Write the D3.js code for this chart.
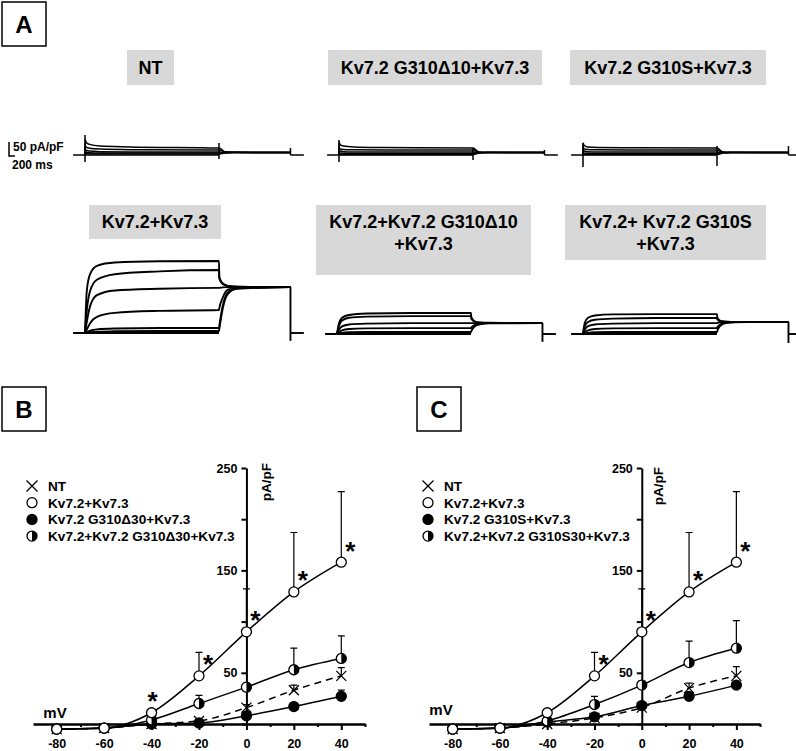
<!DOCTYPE html>
<html>
<head>
<meta charset="utf-8">
<script src="https://cdn.jsdelivr.net/npm/d3@7"></script>
<style>
  body { margin: 0; background: #fff; }
  svg { display: block; }
  text { font-family: Arial, "Liberation Sans", sans-serif; font-weight: bold; fill: #000; }
</style>
</head>
<body>
<div id="chart"></div>
<script>
// --- Panel A: current traces (ms, pA/pF) ---
const stepTop = [0, 1, 40, 150, 500, 1500, 4500];
const tailTop = [4700, 5000, 6000, 6900];
const stepBot = [0, 60, 170, 400, 1000, 2500, 4500];
const tailBot = [4510, 4620, 4800, 5100, 6900];
const holdStart = -400;
const holdEnd = 7350;

const ntStep = [[0, 55, 45, 38, 32, 29, 25], [0, 35, 28, 24, 21, 19, 18], [0, 22, 17, 14, 12, 11, 11], [0, 12, 10, 8, 7, 7, 7], [0, 6, 5, 4, 4, 4, 4]];
const ntTail = [[12, 10, 9, 9], [11, 10, 9, 9], [9, 9, 9, 9], [8, 9, 9, 9], [7, 9, 9, 9]];
const ntSpikes = [[0, -25, 71], [4500, -14, 43], [6900, 0, 25]];

const d10Step = [[0, 46, 36, 32, 29, 27, 25], [0, 28, 22, 20, 19, 18, 18], [0, 18, 14, 12, 11, 11, 11], [0, 9, 7, 6, 5, 5, 5], [0, 4, 3, 2, 2, 2, 2]];
const d10Tail = [[11, 10, 9, 9], [10, 9, 9, 9], [9, 9, 9, 9], [8, 9, 9, 9], [7, 9, 9, 9]];
const d10Spikes = [[0, -25, 54], [4500, -18, 25], [6900, 0, 18]];

const sStep = [[0, 43, 34, 29, 27, 26, 25], [0, 28, 22, 20, 19, 18, 18], [0, 17, 14, 12, 11, 11, 11], [0, 9, 7, 6, 5, 5, 5], [0, 4, 3, 2, 2, 2, 2]];
const sTail = [[11, 10, 9, 9], [10, 9, 9, 9], [9, 9, 9, 9], [8, 9, 9, 9], [7, 9, 9, 9]];
const sSpikes = [[0, -43, 43], [4500, -39, 32], [6900, 0, 32]];

const wtStep = [[0, 150, 210, 240, 252, 256, 257], [0, 80, 150, 190, 210, 220, 225], [0, 40, 95, 135, 152, 158, 161], [0, 12, 35, 58, 72, 79, 82], [0, 3, 8, 13, 16, 18, 18], [0, 1, 3, 5, 6, 7, 7]];
const wtTail = [[195, 175, 168, 165, 164], [200, 178, 168, 165, 164], [161, 163, 164, 164, 164], [88, 125, 155, 162, 164], [25, 95, 145, 160, 164], [14, 85, 140, 158, 164]];
const wtSpikes = [[6900, -28, 164]];

const mixD10Step = [[0, 35, 58, 68, 73, 75, 75], [0, 28, 48, 58, 62, 64, 64], [0, 14, 27, 34, 37, 39, 39], [0, 6, 13, 18, 20, 21, 21], [0, 2, 4, 6, 7, 7, 7]];
const mixD10Tail = [[60, 45, 41, 40, 39], [55, 44, 40, 39, 39], [39, 39, 39, 39, 39], [23, 32, 37, 39, 39], [10, 27, 35, 38, 39]];
const mixD10Spikes = [[6900, -28, 39]];

const mixSStep = [[0, 40, 58, 66, 70, 71, 71], [0, 28, 43, 51, 55, 57, 57], [0, 16, 28, 34, 37, 39, 39], [0, 7, 13, 18, 20, 21, 21], [0, 2, 4, 6, 7, 7, 7]];
const mixSTail = [[58, 47, 44, 43, 43], [52, 46, 44, 43, 43], [40, 42, 43, 43, 43], [24, 35, 41, 43, 43], [11, 30, 39, 42, 43]];
const mixSSpikes = [[6900, -32, 43]];

const traceTitles = [["NT"], ["Kv7.2 G310Δ10+Kv7.3"], ["Kv7.2 G310S+Kv7.3"], ["Kv7.2+Kv7.3"], ["Kv7.2+Kv7.2 G310Δ10", "+Kv7.3"], ["Kv7.2+ Kv7.2 G310S", "+Kv7.3"]];

// --- Panels B and C: I-V relations (mV, pA/pF) ---
const voltages = [-80, -60, -40, -20, 0, 20, 40];
const majorMv = [-80, -60, -40, -20, 0, 20, 40];
const minorMv = [-70, -50, -30, -10, 10, 30, 50];
const currentTicks = [0, 50, 100, 150, 200, 250];
const labelledTicks = [50, 150, 250];

const bNT = [-5, -4, 0, 3, 16, 33, 47];
const bNTErr = [0, 0, 0, 1, 3, 5, 8];
const bWT = [-5, -4, 11, 47, 90, 129, 158];
const bWTErr = [0, 0, 2, 23, 42, 58, 69];
const bD30 = [-5, -4, 0, 1, 8, 17, 27];
const bD30Err = [0, 0, 0, 0, 2, 2, 6];
const bMix = [-5, -4, 4, 20, 36, 53, 64];
const bMixErr = [0, 0, 1, 8, 4, 21, 22];
const bStars = [-40, -20, 0, 20, 40];

const cNT = [-5, -4, 0, 6, 16, 35, 47];
const cNTErr = [0, 0, 0, 1, 3, 5, 9];
const cWT = [-5, -4, 11, 47, 90, 129, 158];
const cWTErr = [0, 0, 2, 23, 42, 58, 69];
const cS = [-5, -4, 2, 7, 18, 27, 38];
const cSErr = [0, 0, 0, 1, 2, 3, 3];
const cMix = [-5, -4, 3, 19, 38, 60, 74];
const cMixErr = [0, 0, 1, 8, 4, 21, 27];
const cStars = [-20, 0, 20, 40];

const legendB = ["NT", "Kv7.2+Kv7.3", "Kv7.2 G310Δ30+Kv7.3", "Kv7.2+Kv7.2 G310Δ30+Kv7.3"];
const legendC = ["NT", "Kv7.2+Kv7.3", "Kv7.2 G310S+Kv7.3", "Kv7.2+Kv7.2 G310S30+Kv7.3"];
const markerTypes = ["x", "open", "filled", "half"];

// --- SVG ---
const width = 796;
const height = 751;
const svg = d3.select("#chart").append("svg").attr("width", width).attr("height", height);

// panel letter boxes
[["A", 2, 2], ["B", 2, 387], ["C", 417, 387]].forEach(([l, x, y]) => {
  svg.append("rect").attr("x", x).attr("y", y).attr("width", 44).attr("height", 44)
    .attr("fill", "none").attr("stroke", "#000").attr("stroke-width", 1.5);
  svg.append("text").attr("x", x + 22).attr("y", y + 22).attr("dy", "0.36em")
    .attr("text-anchor", "middle").style("font-size", "24px").text(l);
});

// --- Panel A ---
const titleBoxes = [
  { x: 127, y: 50, w: 47, h: 35 }, { x: 328, y: 50, w: 214, h: 35 }, { x: 570, y: 50, w: 196, h: 35 },
  { x: 89, y: 205, w: 132, h: 34 }, { x: 316, y: 205, w: 215, h: 70 }, { x: 565, y: 205, w: 201, h: 55 }
];
titleBoxes.forEach((b, i) => {
  svg.append("rect").attr("x", b.x).attr("y", b.y).attr("width", b.w).attr("height", b.h).attr("fill", "#d8d8d8");
  const lines = traceTitles[i];
  lines.forEach((t, j) => {
    const cy = lines.length === 1 ? b.y + b.h / 2 : 222 + j * 21.5;
    svg.append("text").attr("x", b.x + b.w / 2).attr("y", cy).attr("dy", "0.36em")
      .attr("text-anchor", "middle").style("font-size", "18px").text(t);
  });
});

const tx = d3.scaleLinear().domain([0, 4500]).range([0, 134]);
const ty = d3.scaleLinear().domain([0, 50]).range([0, -14]);
const traceLine = d3.line().x((d) => tx(d[0])).y((d) => ty(d[1])).curve(d3.curveMonotoneX);
const flatLine = d3.line().x((d) => tx(d[0])).y((d) => ty(d[1]));

function drawTraces(ox, oy, stepT, tailT, step, tail, spikes, sw) {
  const g = svg.append("g").attr("transform", `translate(${ox},${oy})`)
    .attr("fill", "none").attr("stroke", "#000").attr("stroke-width", sw);
  g.append("path").attr("d", flatLine([[holdStart, 0], [4500, 0]]));
  g.append("path").attr("d", flatLine([[6900, 0], [holdEnd, 0]]));
  step.forEach((vals, i) => {
    const pts = stepT.map((t, j) => [t, vals[j]]).concat(tailT.map((t, j) => [t, tail[i][j]]));
    g.append("path").attr("d", traceLine(pts));
  });
  spikes.forEach(([t, lo, hi]) => {
    g.append("path").attr("d", flatLine([[t, lo], [t, hi]]));
  });
}

drawTraces(85, 155, stepTop, tailTop, ntStep, ntTail, ntSpikes, 1.5);
drawTraces(339, 155, stepTop, tailTop, d10Step, d10Tail, d10Spikes, 1.5);
drawTraces(583, 155, stepTop, tailTop, sStep, sTail, sSpikes, 1.5);
drawTraces(85, 333, stepBot, tailBot, wtStep, wtTail, wtSpikes, 1.9);
drawTraces(337, 334, stepBot, tailBot, mixD10Step, mixD10Tail, mixD10Spikes, 1.9);
drawTraces(583, 334, stepBot, tailBot, mixSStep, mixSTail, mixSSpikes, 1.9);

// scale bar
const sb = svg.append("g").attr("transform", "translate(9,156)");
sb.append("path").attr("d", flatLine([[0, 50], [0, 0], [200, 0]]))
  .attr("fill", "none").attr("stroke", "#000").attr("stroke-width", 1.5);
svg.append("text").attr("x", 13).attr("y", 147).attr("dy", "0.36em").style("font-size", "12px").text("50 pA/pF");
svg.append("text").attr("x", 12).attr("y", 165).attr("dy", "0.36em").style("font-size", "12px").text("200 ms");

// --- I-V panels ---
function marker(g, type, x, y, s = 5) {
  if (type === "x") {
    g.append("path").attr("d", `M${x - s},${y - s}L${x + s},${y + s}M${x - s},${y + s}L${x + s},${y - s}`)
      .attr("stroke", "#000").attr("stroke-width", 1.3).attr("fill", "none");
    return;
  }
  g.append("circle").attr("cx", x).attr("cy", y).attr("r", s)
    .attr("fill", type === "filled" ? "#000" : "#fff").attr("stroke", "#000").attr("stroke-width", 1.3);
  if (type === "half") {
    g.append("path").attr("d", `M${x},${y - s}A${s},${s} 0 0,1 ${x},${y + s}Z`).attr("fill", "#000");
  }
}

function drawIV(cfg) {
  const x = d3.scaleLinear().domain([-90, 50]).range(cfg.xRange);
  const y = d3.scaleLinear().domain([0, 250]).range([724, 468]);
  const g = svg.append("g");

  const xAxis = g.append("g").attr("transform", `translate(0,${y(0)})`)
    .call(d3.axisBottom(x).tickValues(majorMv).tickSize(6).tickPadding(9).tickSizeOuter(0).tickFormat((d) => String(d)));
  const xMinor = g.append("g").attr("transform", `translate(0,${y(0)})`)
    .call(d3.axisBottom(x).tickValues(minorMv).tickSize(3).tickFormat(""));
  xMinor.select(".domain").remove();
  const yAxis = g.append("g").attr("transform", `translate(${x(0)},0)`)
    .call(d3.axisLeft(y).tickValues(currentTicks).tickSize(5).tickPadding(4).tickSizeOuter(0)
      .tickFormat((d) => (labelledTicks.includes(d) ? d : "")));
  [xAxis, xMinor, yAxis].forEach((a) => {
    a.selectAll("path, line").attr("stroke", "#000").attr("stroke-width", 2);
    a.selectAll("text").style("font-size", "12.5px").style("font-family", "Arial, 'Liberation Sans', sans-serif")
      .style("font-weight", "bold").attr("fill", "#000");
  });
  xAxis.select(".domain").attr("stroke-width", 2.5);

  g.append("text").attr("x", cfg.mv[0]).attr("y", cfg.mv[1]).attr("dy", "0.36em")
    .attr("text-anchor", "middle").style("font-size", "15px").text("mV");
  g.append("text").attr("transform", `translate(${cfg.unit[0]},${cfg.unit[1]}) rotate(-90)`)
    .attr("dy", "0.36em").attr("text-anchor", "middle").style("font-size", "13.5px").text("pA/pF");

  const line = d3.line().x((d) => x(d[0])).y((d) => y(d[1])).curve(d3.curveMonotoneX);
  cfg.series.forEach((s) => {
    g.append("path").attr("d", line(voltages.map((v, i) => [v, s.values[i]])))
      .attr("fill", "none").attr("stroke", "#000").attr("stroke-width", 1.5)
      .attr("stroke-dasharray", s.type === "x" ? "7,5" : null);
  });
  cfg.series.forEach((s) => {
    voltages.forEach((v, i) => {
      const e = s.errs[i];
      if (e <= 0) return;
      const px = x(v), top = y(s.values[i] + e);
      g.append("path").attr("d", `M${px},${y(s.values[i])}V${top}M${px - 3.5},${top}H${px + 3.5}`)
        .attr("stroke", "#000").attr("stroke-width", 1.2).attr("fill", "none");
    });
  });
  cfg.series.forEach((s) => {
    voltages.forEach((v, i) => marker(g, s.type, x(v), y(s.values[i])));
  });

  // significance marks
  const wt = cfg.series.find((s) => s.type === "open");
  cfg.stars.forEach((v) => {
    const i = voltages.indexOf(v);
    const dx = v === -40 ? 1 : 9;
    g.append("text").attr("x", x(v) + dx).attr("y", y(wt.values[i]) - 17).attr("dy", "0.55em")
      .attr("text-anchor", "middle").style("font-size", "26px").text("*");
  });

  // legend
  cfg.legend.forEach((t, i) => {
    const ly = 486 + i * 16.7;
    marker(g, markerTypes[i], cfg.legendX, ly, markerTypes[i] === "x" ? 5.5 : 5);
    g.append("text").attr("x", cfg.legendX + 16).attr("y", ly).attr("dy", "0.36em")
      .style("font-size", "13.6px").text(t);
  });
}

drawIV({
  xRange: [33, 365], mv: [55, 713], unit: [266, 482], legendX: 32, legend: legendB, stars: bStars,
  series: [
    { type: "x", values: bNT, errs: bNTErr },
    { type: "filled", values: bD30, errs: bD30Err },
    { type: "half", values: bMix, errs: bMixErr },
    { type: "open", values: bWT, errs: bWTErr }
  ]
});
drawIV({
  xRange: [429, 760], mv: [441, 710], unit: [658, 486], legendX: 428, legend: legendC, stars: cStars,
  series: [
    { type: "x", values: cNT, errs: cNTErr },
    { type: "filled", values: cS, errs: cSErr },
    { type: "half", values: cMix, errs: cMixErr },
    { type: "open", values: cWT, errs: cWTErr }
  ]
});
</script>
</body>
</html>
